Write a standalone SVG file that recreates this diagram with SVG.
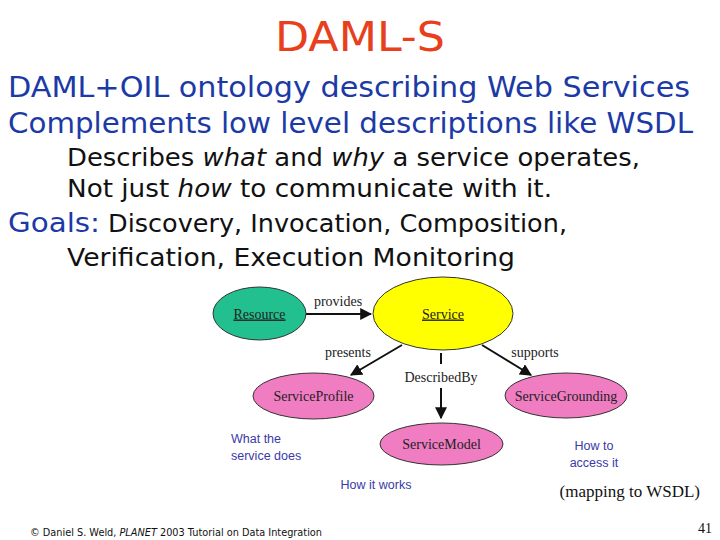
<svg xmlns="http://www.w3.org/2000/svg" width="720" height="540" viewBox="0 0 720 540">
<defs>
<style>
.c{font-family:"DejaVu Sans","Liberation Sans",sans-serif}
.blue{fill:#1c3aa6}
.blk{fill:#111}
.node{stroke:#333;stroke-width:1}
.lbl{font-family:"Liberation Serif",serif;font-size:14px;fill:#222;text-anchor:middle}
.ann{font-family:"Liberation Sans",sans-serif;font-size:12.5px;fill:#3a3aa8}
.edge{stroke:#111;stroke-width:2;fill:none}
</style>
<marker id="ah" viewBox="0 0 10 10" refX="9" refY="5" markerWidth="6" markerHeight="6" orient="auto" markerUnits="strokeWidth">
<path d="M0,0 L10,5 L0,10 z" fill="#111"/>
</marker>
</defs>
<rect width="720" height="540" fill="#fff"/>
<text class="c" x="360" y="51" font-size="41" fill="#e8401c" text-anchor="middle" textLength="170" lengthAdjust="spacingAndGlyphs">DAML-S</text>
<text class="c blue" x="8" y="97" font-size="29" textLength="682" lengthAdjust="spacingAndGlyphs">DAML+OIL ontology describing Web Services</text>
<text class="c blue" x="8" y="133" font-size="29" textLength="685" lengthAdjust="spacingAndGlyphs">Complements low level descriptions like WSDL</text>
<text class="c blk" x="67" y="166" font-size="25" textLength="573" lengthAdjust="spacingAndGlyphs">Describes <tspan font-style="italic">what</tspan> and <tspan font-style="italic">why</tspan> a service operates,</text>
<text class="c blk" x="67" y="197" font-size="25" textLength="485" lengthAdjust="spacingAndGlyphs">Not just <tspan font-style="italic">how</tspan> to communicate with it.</text>
<text class="c blue" x="8" y="232" font-size="27" textLength="92" lengthAdjust="spacingAndGlyphs">Goals:</text>
<text class="c blk" x="108" y="232" font-size="25" textLength="459" lengthAdjust="spacingAndGlyphs">Discovery, Invocation, Composition,</text>
<text class="c blk" x="67" y="266" font-size="25" textLength="448" lengthAdjust="spacingAndGlyphs">Verification, Execution Monitoring</text>

<g id="connectors">
<line class="edge" x1="306" y1="314" x2="371" y2="314" marker-end="url(#ah)"/>
<text class="lbl" x="338" y="306">provides</text>
<line class="edge" x1="402" y1="345" x2="351" y2="375" marker-end="url(#ah)"/>
<text class="lbl" x="348" y="357">presents</text>
<line class="edge" x1="441" y1="353" x2="441" y2="364"/>
<line class="edge" x1="441" y1="388" x2="441" y2="418" marker-end="url(#ah)"/>
<text class="lbl" x="441" y="382">DescribedBy</text>
<line class="edge" x1="482" y1="345" x2="531" y2="375" marker-end="url(#ah)"/>
<text class="lbl" x="535" y="357">supports</text>
</g>

<g id="resource">
<ellipse class="node" cx="259.5" cy="313.5" rx="46.5" ry="26.5" fill="#22c08f"/>
<text class="lbl" x="259.5" y="318.5" text-decoration="underline">Resource</text>
</g>
<g id="service">
<ellipse class="node" cx="443" cy="313.5" rx="70" ry="36.5" fill="#ffff00"/>
<text class="lbl" x="443" y="318.5" text-decoration="underline">Service</text>
</g>
<g id="serviceprofile">
<ellipse class="node" cx="313.5" cy="396" rx="60.5" ry="23" fill="#f07cc2"/>
<text class="lbl" x="313.5" y="401">ServiceProfile</text>
</g>
<g id="servicemodel">
<ellipse class="node" cx="441.5" cy="444" rx="61.5" ry="21" fill="#f07cc2"/>
<text class="lbl" x="441.5" y="449">ServiceModel</text>
</g>
<g id="servicegrounding">
<ellipse class="node" cx="566" cy="395.5" rx="61" ry="22.5" fill="#f07cc2"/>
<text class="lbl" x="566" y="400.5">ServiceGrounding</text>
</g>

<text class="ann" x="231" y="443">What the</text>
<text class="ann" x="231" y="460">service does</text>
<text class="ann" x="376" y="489" text-anchor="middle">How it works</text>
<text class="ann" x="594" y="450" text-anchor="middle">How to</text>
<text class="ann" x="594" y="467" text-anchor="middle">access it</text>
<text x="700" y="497" font-family="Liberation Serif,serif" font-size="17" fill="#111" text-anchor="end">(mapping to WSDL)</text>
<text class="c" x="30" y="536" font-size="10" fill="#111" textLength="292" lengthAdjust="spacingAndGlyphs">© Daniel S. Weld, <tspan font-style="italic">PLANET</tspan> 2003 Tutorial on Data Integration</text>
<text x="712" y="533" font-family="Liberation Serif,serif" font-size="14" fill="#111" text-anchor="end">41</text>
</svg>
